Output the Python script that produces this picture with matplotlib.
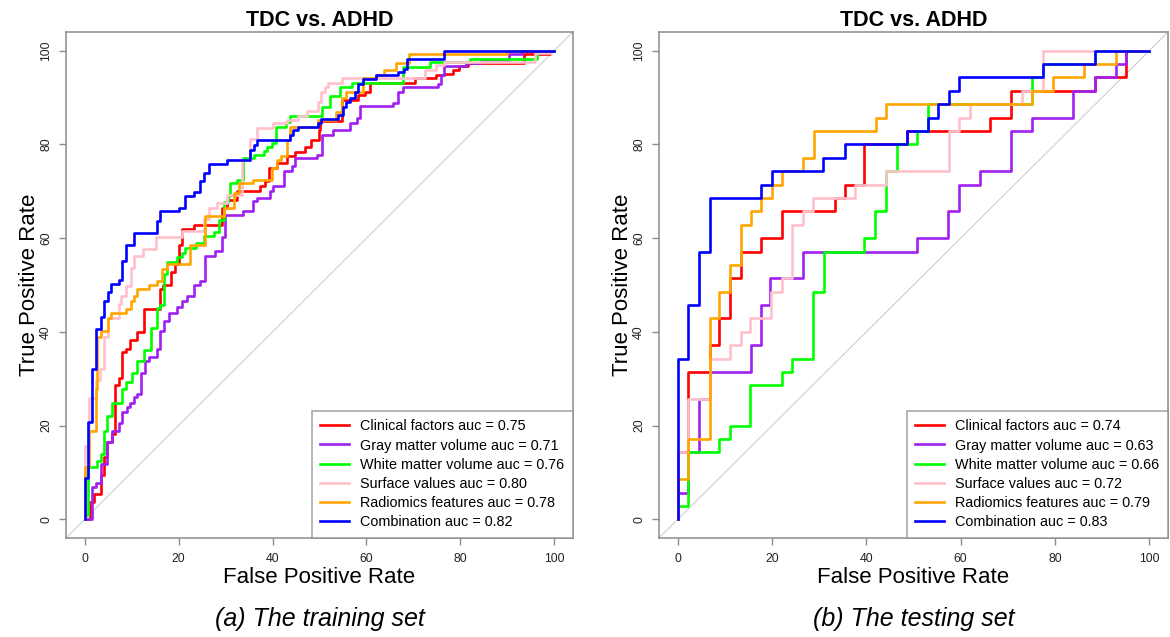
import matplotlib
matplotlib.use("Agg")
import matplotlib.pyplot as plt

plt.rcParams['font.family'] = ['Liberation Sans', 'DejaVu Sans']

labels = ["Clinical factors", "Gray matter volume", "White matter volume",
          "Surface values", "Radiomics features", "Combination"]
colors = ["#FF0000", "#A020F0", "#00FF00", "#FFC0CB", "#FFA500", "#0000FF"]

# training set, step corners (fpr %, tpr %)
train_auc = [0.75, 0.71, 0.76, 0.80, 0.78, 0.82]
train_fpr = [
    [0, 1.1, 2.0, 3.4, 4.1, 4.8, 5.9, 6.4, 7.3, 8, 8.7, 9.6, 11.2, 12.7, 16, 16.7, 18.3, 19.3, 20, 20.7, 23.2,
     29.3, 30.3, 32.4, 37.4, 38.4, 39.2, 40.9, 43.1, 44.8, 47, 48.1, 49.8, 50.1, 54.8, 58.3, 59.7, 60.7, 70.3,
     74.9, 76.5, 78.4, 79.8, 81.6, 93.6, 99, 100],
    [0, 1.6, 2.3, 3.4, 4.8, 5.7, 7.3, 8, 8.9, 9.6, 10.5, 11.2, 11.9, 12.9, 13.7, 15.4, 16.1, 16.8, 17.9, 19.7,
     20.7, 21.8, 23.2, 24.6, 25.7, 27.8, 29.2, 29.9, 33.8, 35.9, 36.7, 39.5, 40.2, 42.4, 44.1, 44.8, 49.4, 50.5,
     52.9, 56.5, 57.9, 58.6, 65.7, 66.7, 67.8, 75.2, 75.9, 76.6, 81.2, 84.4, 90.3, 93.2, 100],
    [0, 0.6, 2.6, 3.4, 4.1, 4.8, 5.7, 8, 8.7, 10.1, 11.2, 12.7, 14, 15.3, 16.1, 16.8, 17.5, 19.7, 20.7, 21.4,
     23.6, 25.4, 27.5, 28.5, 29.6, 30.6, 31, 32.4, 33.6, 36, 38.2, 38.8, 39.9, 40.8, 42.9, 43.7, 50.6, 52.2,
     54.3, 56.9, 67.8, 73.5, 82, 96.4, 100],
    [0, 0, 0.8, 2.3, 3.3, 4, 4.9, 7.3, 7.8, 8.7, 9.8, 10.5, 12.3, 15.1, 20.7, 25.4, 26.4, 28.2, 30.3, 33.5,
     35.3, 36.7, 40.2, 43, 45.5, 47.3, 49.7, 50.4, 51.1, 51.9, 54.7, 72.4, 74.8, 76.6, 95.8, 99.3, 100],
    [0, 0, 0.9, 2.3, 2.6, 3.4, 4.9, 5.6, 8.7, 9.8, 10.5, 11.2, 13.7, 15.3, 16.5, 17.6, 22.5, 25.7, 29.6, 31.7,
     32.8, 35.9, 39.9, 41, 41.8, 43.1, 43.7, 49.7, 53.5, 54.7, 55.7, 59.3, 62.1, 63.8, 66.3, 69.1, 90, 100],
    [0, 0, 0.6, 1.6, 2.3, 3.4, 4.1, 4.9, 5.6, 7.3, 8, 8.7, 10.5, 15.3, 16.1, 20, 21.4, 23.2, 24.6, 25.5, 26.4,
     30.3, 35.3, 36, 36.7, 43.7, 44.4, 45.5, 49.7, 50.4, 54, 55, 55.7, 56.5, 57.5, 58.2, 59.3, 62.1, 66.7,
     67.9, 68.6, 76.6, 100],
]
train_tpr = [
    [0, 3.6, 5.3, 9.4, 13.3, 16.4, 18.1, 28.6, 30.1, 35.7, 36.4, 38.2, 39.9, 44.9, 49.1, 50, 52.8, 54.4, 58.6,
     62, 62.9, 66.5, 68.2, 70, 71.1, 72.2, 75, 76, 77.5, 78.4, 79.5, 81, 83, 85.1, 89.5, 90.6, 91.3, 93.1,
     94.1, 94.8, 95, 95.9, 96.7, 97.3, 99.4, 100, 100],
    [0, 6.9, 7.8, 11.8, 16.4, 18.9, 20.6, 22.8, 23.9, 24.8, 26.1, 26.8, 31.3, 33.8, 34.6, 36.3, 40.2, 42.3,
     44.1, 45.2, 46.6, 47.7, 50, 50.9, 56.2, 57.2, 60.3, 65, 65.7, 67.9, 68.6, 70.1, 71.1, 74.3, 75.3, 77.1,
     77.8, 82, 83.1, 84.5, 85.6, 88.1, 88.8, 91.3, 92.3, 93, 94.8, 96.7, 97.3, 97.8, 99.2, 100, 100],
    [0.9, 11.1, 12.5, 13.9, 18.9, 22.1, 24.9, 27.8, 29.2, 31.3, 33.8, 36.2, 40.8, 45.1, 45.8, 52.4, 55, 56,
     56.8, 57.8, 59, 60.4, 61.4, 63.8, 67.7, 69, 71.7, 72.5, 77.1, 77.8, 78.5, 79.5, 80.3, 83.7, 84.8, 86, 88,
     90.4, 92.3, 93.2, 96.6, 97.5, 98.2, 100, 100],
    [0, 15.7, 25.8, 29.8, 32, 39, 43, 45.9, 47.7, 49.8, 53.7, 56.2, 57.6, 60.3, 61.5, 64, 66.4, 67.5, 69.3,
     76.7, 81.2, 83.5, 84.6, 85.3, 86.1, 87.1, 89.1, 91.3, 92.3, 93.2, 94.1, 95.9, 96.9, 97.5, 99.5, 100, 100],
    [0, 11.1, 18.9, 27.8, 38.8, 40.2, 43, 44.1, 44.8, 46.6, 47.7, 49.1, 49.9, 50.9, 53.4, 54.4, 58.6, 64.7,
     66.4, 69.6, 71.7, 72.4, 75, 76.7, 77.6, 81, 83.7, 85.3, 87, 89.9, 91.3, 94.1, 94.9, 95.8, 97.4, 99.2,
     100, 100],
    [0, 8.7, 20.7, 32, 40.6, 43.1, 46.6, 48.4, 50.2, 51, 55.2, 58.6, 61.1, 63.6, 65.7, 66.4, 68.9, 69.8, 72.1,
     74, 75.9, 76.7, 78.8, 79.8, 81, 82, 83, 83.7, 84.5, 85.4, 86.3, 88, 89.1, 90, 91.3, 93, 93.9, 94.8, 95.5,
     96.2, 98.2, 100, 100],
]

# testing set
test_auc = [0.74, 0.63, 0.66, 0.72, 0.79, 0.83]
test_fpr = [
    [0, 0, 2.1, 6.8, 8.8, 11.1, 13.3, 17.7, 22.1, 33.3, 35.4, 39.6, 48.6, 66.2, 70.6, 88.5, 95.1, 95.1, 100],
    [0, 0, 2.1, 4.5, 6.8, 15.5, 17.7, 19.6, 26.5, 50.8, 57.4, 59.7, 64.1, 70.7, 75.2, 83.9, 88.5, 93, 95.1, 100],
    [0, 0, 2.1, 8.8, 11.1, 15.4, 22.1, 24.3, 28.7, 31, 39.6, 41.9, 44.2, 46.5, 50.8, 53.1, 75.2, 77.4, 88.5, 100],
    [0, 0, 2.1, 6.8, 11.1, 13.3, 15.4, 19.8, 22.1, 24.3, 26.5, 28.7, 37.6, 44.2, 57.5, 59.7, 61.9, 73, 77.4, 100],
    [0, 0, 2.1, 6.8, 8.8, 11.1, 13.3, 15.5, 17.7, 20, 22.1, 26.5, 28.8, 42, 44.2, 75.2, 79.5, 86.2, 92.9, 100],
    [0, 0, 2.1, 4.5, 6.8, 17.7, 20, 30.9, 35.4, 48.6, 53.1, 55.3, 57.6, 59.7, 77.4, 88.5, 100],
]
test_tpr = [
    [0, 14.3, 31.4, 37.1, 42.9, 51.4, 57.1, 60, 65.7, 68.6, 71.4, 80, 82.9, 85.7, 91.4, 94.3, 97.1, 100, 100],
    [0, 5.7, 14.3, 25.7, 31.4, 37.1, 45.7, 51.4, 57.1, 60, 65.7, 71.4, 74.3, 82.9, 85.7, 91.4, 94.3, 97.1, 100, 100],
    [0, 2.9, 14.3, 17.1, 20, 28.6, 31.4, 34.3, 48.6, 57.1, 60, 65.7, 74.3, 80, 82.9, 88.6, 94.3, 97.1, 100, 100],
    [0, 14.3, 25.7, 34.3, 37.1, 40, 42.9, 48.6, 51.4, 62.9, 65.7, 68.6, 71.4, 74.3, 82.9, 85.7, 88.6, 91.4, 100, 100],
    [0, 8.6, 17.1, 42.9, 48.6, 54.3, 62.9, 65.7, 68.6, 71.4, 74.3, 77.1, 82.9, 85.7, 88.6, 91.4, 94.3, 97.1, 100, 100],
    [0, 34.3, 45.7, 57.1, 68.6, 71.4, 74.3, 77.1, 80, 82.9, 85.7, 88.6, 91.4, 94.3, 97.1, 100, 100],
]

ticks = [0, 20, 40, 60, 80, 100]
captions = ["(a) The training set", "(b) The testing set"]

fig = plt.figure(figsize=(11.7, 6.37), dpi=100)
ax1 = fig.add_axes([66 / 1170, 1 - 538 / 637, 507 / 1170, 506 / 637])
ax2 = fig.add_axes([659 / 1170, 1 - 538 / 637, 509 / 1170, 506 / 637])

panels = [(ax1, train_fpr, train_tpr, train_auc), (ax2, test_fpr, test_tpr, test_auc)]
for i, (ax, fprs, tprs, aucs) in enumerate(panels):
    ax.axline((0, 0), slope=1, color="#CFCFCF", lw=0.8, zorder=1)
    for fpr, tpr, auc, lab, col in zip(fprs, tprs, aucs, labels, colors):
        ax.step(fpr, tpr, where="post", color=col, lw=1.9,
                label=f"{lab} auc = {auc:.2f}", zorder=2)
    ax.set_xlim(-4, 104)
    ax.set_ylim(-4, 104)
    ax.set_xticks(ticks)
    ax.set_yticks(ticks)
    for sp in ax.spines.values():
        sp.set_color("#8C8C8C")
        sp.set_linewidth(1.1)
    ax.tick_params(color="#8C8C8C", length=5, width=1.0, labelsize=8.8, labelcolor="#222222")
    ax.tick_params(axis="x", pad=6)
    ax.tick_params(axis="y", pad=5, labelrotation=90)
    for t in ax.get_yticklabels():
        t.set_va("center")
    ax.set_title("TDC vs. ADHD", fontsize=15.5, fontweight="bold", pad=4.5)
    leg = ax.legend(loc="lower right", fontsize=10.4, frameon=True, fancybox=False,
                    borderaxespad=0, borderpad=0.6, labelspacing=0.36,
                    handlelength=2.0, handletextpad=0.75)
    leg.get_frame().set_edgecolor("#8C8C8C")
    leg.get_frame().set_linewidth(1.1)
    pos = ax.get_position()
    cx = (pos.x0 + pos.x1) / 2
    fig.text(cx, 1 - 583 / 637, "False Positive Rate", fontsize=16, ha="center", va="baseline")
    fig.text(pos.x0 - 36 / 1170, (pos.y0 + pos.y1) / 2, "True Positive Rate", fontsize=16,
             rotation=90, ha="center", va="center")
    fig.text(cx, 1 - 626 / 637, captions[i], fontsize=18, style="italic", ha="center", va="baseline")

fig.savefig("out.png", dpi=100)
